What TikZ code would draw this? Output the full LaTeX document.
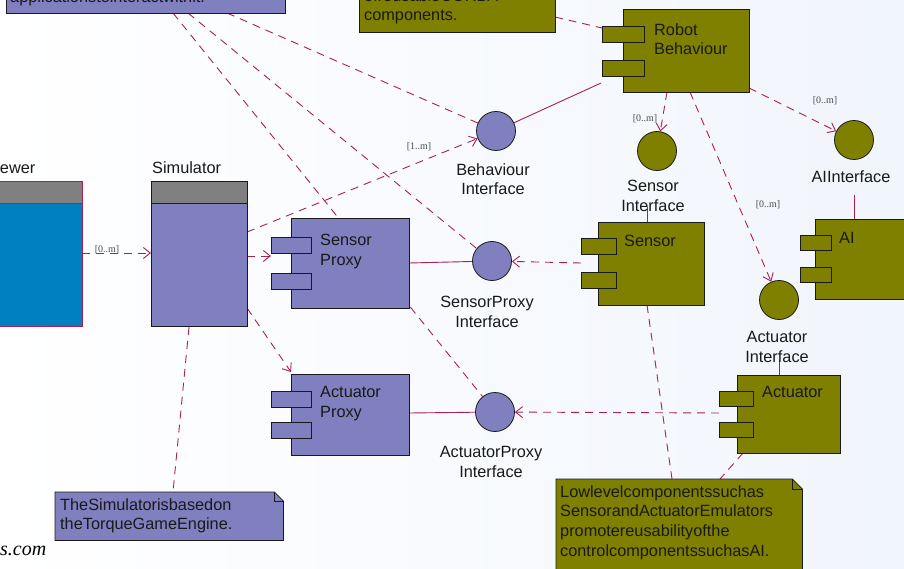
\documentclass[tikz,border=0pt]{standalone}
\usepackage{fontspec}
\setmainfont{Liberation Sans}
\newfontfamily\mulfont{Liberation Serif}
\usetikzlibrary{arrows.meta,calc}
\definecolor{colOlive}{HTML}{808000}
\definecolor{colPurple}{HTML}{8080C0}
\definecolor{colBlue}{HTML}{0080C0}
\definecolor{colHead}{HTML}{808080}
\definecolor{colLine}{HTML}{A8205A}
\definecolor{colEdge}{HTML}{1A1A1A}
\definecolor{colBgA}{HTML}{FFFFFF}
\definecolor{colBgB}{HTML}{F1F5FC}
\tikzset{
  rect/.style={anchor=north west, inner sep=0pt, outer sep=0pt, draw=colEdge, line width=0.8pt},
  iface/.style={circle, draw=colEdge, line width=0.8pt, minimum size=39pt, inner sep=0pt},
  txt/.style={inner sep=0pt, font=\fontsize{16.3}{19.7}\selectfont, align=left, text=black!90},
  lbl/.style={inner sep=0pt, font=\fontsize{16.3}{19.7}\selectfont, align=center, anchor=north, text=black!90},
  mult/.style={inner sep=0pt, font=\mulfont\fontsize{10}{11}\selectfont, text=black!70},
  dashl/.style={draw=colLine, line width=0.9pt, dash pattern=on 8pt off 6pt},
  dep/.style={dashl, -{Straight Barb[length=7pt,width=11pt,line width=0.9pt]}},
  sol/.style={draw=colLine, line width=0.9pt},
  notebox/.style={draw=colEdge, line width=0.8pt}
}
\begin{document}
\begin{tikzpicture}[x=1pt,y=-1pt]
\useasboundingbox (0,0) rectangle (904,569);
\clip (0,0) rectangle (904,569);
\shade[left color=colBgA, right color=colBgB] (0,0) rectangle (904,569);

% ---------- anchors of the cropped notes ----------
\node[anchor=north west, inner sep=0pt, minimum width=279pt, minimum height=43pt] (ntl) at (6,-30) {};
\node[anchor=north west, inner sep=0pt, minimum width=196pt, minimum height=72pt] (ntm) at (359,-40) {};
\node[anchor=north west, inner sep=0pt, minimum width=228pt, minimum height=48pt] (nsim) at (55,492) {};
\node[anchor=north west, inner sep=0pt, minimum width=246pt, minimum height=120pt] (nlow) at (556,479) {};

% ---------- nodes (geometry only, for connectors) ----------
\node[iface, draw=none] (bi) at (496,131) {};
\node[iface, draw=none] (si) at (657,151) {};
\node[iface, draw=none] (aii) at (854,140) {};
\node[iface, draw=none] (aci) at (779,300) {};
\node[iface, draw=none] (spi) at (492,261) {};
\node[iface, draw=none] (api) at (495,412) {};

% ---------- connector end points ----------
\coordinate (tlA) at (173,13);
\coordinate (tlB) at (188,13);
\coordinate (tlC) at (227,13);
\coordinate (tmA) at (555,17);
\coordinate (rbIn) at (602,28);
\coordinate (rbOutA) at (601,83);
\coordinate (rbS) at (667,92);
\coordinate (rbAc) at (690,92);
\coordinate (rbAi) at (749,88);
\coordinate (vwE) at (82,253);
\coordinate (smW) at (151,253);
\coordinate (smB) at (247,232);
\coordinate (smS) at (247,256);
\coordinate (spW) at (271,256);
\coordinate (smA) at (247,308);
\coordinate (apNW) at (291,372);
\coordinate (smN) at (189,327);
\coordinate (nsimT) at (173,492);
\coordinate (senW) at (581,263);
\coordinate (spE) at (409,263);
\coordinate (actW) at (719,413);
\coordinate (apE) at (409,413);
\coordinate (siB) at (647,207);
\coordinate (senN) at (647,222);
\coordinate (aiB) at (854,195);
\coordinate (aiN) at (854,219);
\coordinate (acB) at (779,360);
\coordinate (acN) at (779,375);
\coordinate (senS) at (647,305);
\coordinate (nlowA) at (672,479);
\coordinate (actS) at (743,453);
\coordinate (nlowB) at (720,479);

% ---------- connectors (behind shapes) ----------
\draw[dashl] (tlA) -- (api);
\draw[dashl] (tlB) -- (spi);
\draw[dashl] (tlC) -- (bi);
\draw[dashl] (tmA) -- (rbIn);
\draw[sol] (rbOutA) -- (bi);
\draw[dep] (rbS) -- (si);
\draw[dep] (rbAc) -- (aci);
\draw[dep] (rbAi) -- (aii);
\draw[dep] (vwE) -- (smW);
\draw[dep] (smB) -- (bi);
\draw[dep] (smS) -- (spW);
\draw[dep] (smA) -- (apNW);
\draw[dashl] (smN) -- (nsimT);
\draw[dep] (senW) -- (spi);
\draw[sol] (spE) -- (spi);
\draw[dep] (actW) -- (api);
\draw[sol] (apE) -- (api);
\draw[sol] (siB) -- (senN);
\draw[sol] (aiB) -- (aiN);
\draw[sol] (acB) -- (acN);
\draw[dashl] (senS) -- (nlowA);
\draw[dashl] (actS) -- (nlowB);

% ---------- multiplicities ----------
\node[mult] (m1) at (107,250) {[0..m]};
\node[mult] (m2) at (419,147) {[1..m]};
\node[mult] (m3) at (645,119) {[0..m]};
\node[mult] (m4) at (825,101) {[0..m]};
\node[mult] (m5) at (768,205) {[0..m]};

% ---------- notes ----------
\draw[notebox, fill=colPurple] (ntl.north west) rectangle (ntl.south east);
\node[txt, anchor=base west] (ntlt) at (10,3) {applicationstointeractwithit.};
\draw[notebox, fill=colOlive] (ntm.north west) rectangle (ntm.south east);
\node[txt, anchor=base west] (ntmt1) at (364,2) {ofreusableCORBA};
\node[txt, anchor=base west] (ntmt2) at (364,21) {components.};

\draw[notebox, fill=colPurple] (nsim.north west) -- ([xshift=-9pt]nsim.north east) -- ([yshift=-9pt]nsim.north east) -- (nsim.south east) -- (nsim.south west) -- cycle;
\draw[notebox] ([xshift=-9pt]nsim.north east) |- ([yshift=-9pt]nsim.north east);
\node[txt, anchor=north west] (nsimtx) at (60,498) {TheSimulatorisbasedon\\theTorqueGameEngine.};

\draw[notebox, fill=colOlive] (nlow.north west) -- ([xshift=-10pt]nlow.north east) -- ([yshift=-10pt]nlow.north east) -- (nlow.south east) -- (nlow.south west) -- cycle;
\draw[notebox] ([xshift=-10pt]nlow.north east) |- ([yshift=-10pt]nlow.north east);
\node[txt, anchor=north west] (nlowtx) at (560,485) {Lowlevelcomponentssuchas\\SensorandActuatorEmulators\\promotereusabilityofthe\\controlcomponentssuchasAI.};

% ---------- Viewer ----------
\node[rect, draw=colLine, fill=colHead, minimum width=102pt, minimum height=22pt] (vwh) at (-20,181) {};
\node[rect, draw=colLine, fill=colBlue, minimum width=102pt, minimum height=123pt] (vw) at (-20,203) {};
\node[txt, anchor=base east] (vwl) at (35.5,174) {Viewer};

% ---------- Simulator ----------
\node[rect, fill=colHead, minimum width=96pt, minimum height=22pt] (smh) at (151,181) {};
\node[rect, fill=colPurple, minimum width=96pt, minimum height=123pt] (sm) at (151,203) {};
\node[txt, anchor=base west] (sml) at (152,174) {Simulator};

% ---------- Sensor Proxy ----------
\node[rect, fill=colPurple, minimum width=118pt, minimum height=90pt] (sp) at (291,218) {};
\node[rect, fill=colPurple, minimum width=40pt, minimum height=16pt] (spp1) at (271,237) {};
\node[rect, fill=colPurple, minimum width=40pt, minimum height=16pt] (spp2) at (271,273) {};
\node[txt, anchor=north west] (spt) at (320,234) {Sensor\\Proxy};

% ---------- Actuator Proxy ----------
\node[rect, fill=colPurple, minimum width=118pt, minimum height=81pt] (ap) at (291,374) {};
\node[rect, fill=colPurple, minimum width=40pt, minimum height=16pt] (app1) at (271,391) {};
\node[rect, fill=colPurple, minimum width=40pt, minimum height=16pt] (app2) at (271,422) {};
\node[txt, anchor=north west] (apt) at (320,386) {Actuator\\Proxy};

% ---------- Robot Behaviour ----------
\node[rect, fill=colOlive, minimum width=126pt, minimum height=83pt] (rb) at (623,9) {};
\node[rect, fill=colOlive, minimum width=42pt, minimum height=16pt] (rbp1) at (602,26) {};
\node[rect, fill=colOlive, minimum width=42pt, minimum height=16pt] (rbp2) at (602,60) {};
\node[txt, anchor=north west] (rbt) at (654,23) {Robot\\Behaviour};

% ---------- Sensor ----------
\node[rect, fill=colOlive, minimum width=106pt, minimum height=83pt] (sen) at (598,222) {};
\node[rect, fill=colOlive, minimum width=35pt, minimum height=16pt] (senp1) at (581,238) {};
\node[rect, fill=colOlive, minimum width=35pt, minimum height=16pt] (senp2) at (581,272) {};
\node[txt, anchor=north west] (sent) at (624,235) {Sensor};

% ---------- AI ----------
\node[rect, fill=colOlive, minimum width=100pt, minimum height=80pt] (ai) at (815,219) {};
\node[rect, fill=colOlive, minimum width=31pt, minimum height=15pt] (aip1) at (800,235) {};
\node[rect, fill=colOlive, minimum width=31pt, minimum height=15pt] (aip2) at (800,267) {};
\node[txt, anchor=north west] (ait) at (839,232) {AI};

% ---------- Actuator ----------
\node[rect, fill=colOlive, minimum width=103pt, minimum height=78pt] (act) at (737,375) {};
\node[rect, fill=colOlive, minimum width=34pt, minimum height=15pt] (actp1) at (719,391) {};
\node[rect, fill=colOlive, minimum width=34pt, minimum height=15pt] (actp2) at (719,422) {};
\node[txt, anchor=north west] (actt) at (762,386) {Actuator};

% ---------- interfaces (drawn) ----------
\node[iface, fill=colPurple] (biD) at (bi) {};
\node[iface, fill=colOlive] (siD) at (si) {};
\node[iface, fill=colOlive] (aiiD) at (aii) {};
\node[iface, fill=colOlive] (aciD) at (aci) {};
\node[iface, fill=colPurple] (spiD) at (spi) {};
\node[iface, fill=colPurple] (apiD) at (api) {};

\node[lbl] (bil) at (493,163) {Behaviour\\Interface};
\node[lbl] (sil) at (653,180) {Sensor\\Interface};
\node[lbl] (aiil) at (851,171) {AIInterface};
\node[lbl] (acil) at (777,331) {Actuator\\Interface};
\node[lbl] (spil) at (487,296) {SensorProxy\\Interface};
\node[lbl] (apil) at (491,446) {ActuatorProxy\\Interface};

% ---------- stray text ----------
\node[inner sep=0pt, anchor=base west, font=\mulfont\itshape\fontsize{20}{22}\selectfont] (web) at (0,555) {s.com};
\end{tikzpicture}
\end{document}
